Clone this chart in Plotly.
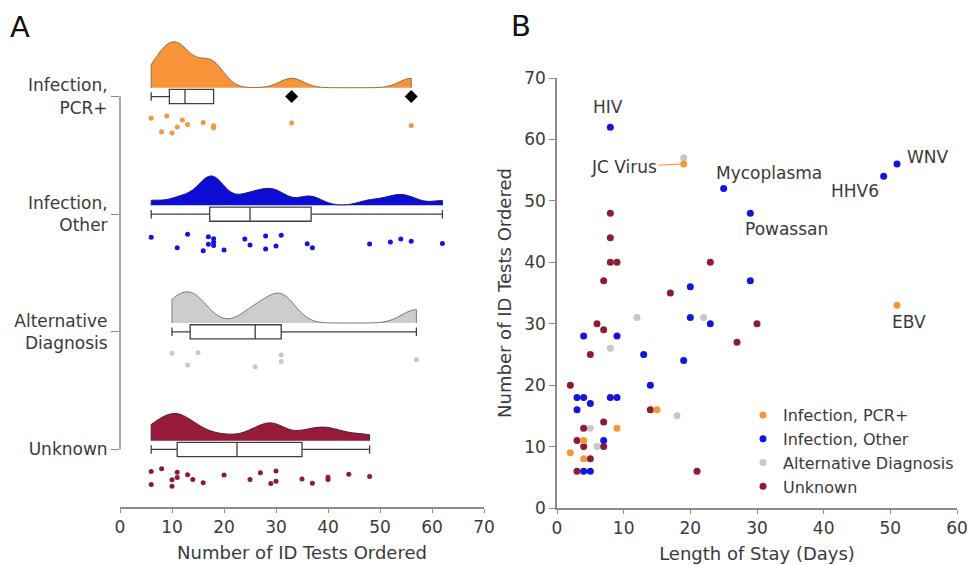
import plotly.graph_objects as go

# ---------------- data ----------------
groups = ["Infection, PCR+", "Infection, Other", "Alternative Diagnosis", "Unknown"]
group_ticks = ["Infection,<br>PCR+", "Infection,<br>Other", "Alternative<br>Diagnosis", "Unknown"]

# Panel A: number of ID tests ordered per patient, by group
tests_pcr = [6, 8, 9, 10, 11, 12, 13, 16, 18, 18, 33, 56]
tests_other = [6, 11, 13, 16, 17, 17, 18, 18, 18, 20, 24, 25, 28, 28, 30, 31, 36, 37, 48, 52, 54, 56, 62]
tests_alt = [10, 13, 15, 26, 31, 31, 57]
tests_unknown = [6, 6, 8, 10, 10, 11, 11, 13, 14, 16, 20, 25, 27, 29, 30, 30, 35, 37, 40, 40, 44, 48]

# Panel B: length of stay (days) vs number of ID tests
los_pcr = [19, 51, 15, 9, 4, 2, 4]
n_pcr = [56, 33, 16, 13, 11, 9, 8]
los_other = [8, 25, 29, 51, 49, 29, 20, 20, 23, 4, 9, 13, 19, 14, 3, 4, 8, 9, 5, 3, 7, 4, 5]
n_other = [62, 52, 48, 56, 54, 37, 36, 31, 30, 28, 28, 25, 24, 20, 18, 18, 18, 18, 17, 16, 11, 6, 6]
los_alt = [19, 12, 22, 8, 18, 5, 6]
n_alt = [57, 31, 31, 26, 15, 13, 10]
los_unknown = [8, 8, 8, 9, 23, 7, 17, 6, 30, 7, 27, 5, 2, 14, 7, 4, 3, 4, 7, 5, 3, 21]
n_unknown = [48, 44, 40, 40, 40, 37, 35, 30, 30, 29, 27, 25, 20, 16, 14, 13, 11, 10, 10, 8, 6, 6]

# labelled pathogens (x = LOS, y = tests)
label_text = ["HIV", "JC Virus", "Mycoplasma", "HHV6", "WNV", "Powassan", "EBV"]
label_los = [8, 19, 25, 49, 51, 29, 51]
label_tests = [62, 56, 52, 54, 56, 48, 33]

# ---------------- style ----------------
FONT = "DejaVu Sans"
TXT = "#3a3a3a"
AX = "#8a8a8a"
ORANGE = "#F5963A"
BLUE = "#1414DC"
GRAY = "#C8C8C8"
DRED = "#8E1B36"
V_FILL = ["#F7943A", "#0C0CD4", "#CDCDCD", "#961A3A"]
V_LINE = ["#9a6a40", "#1a1a80", "#7a7a7a", "#5a1a2a"]
colors = [ORANGE, BLUE, GRAY, DRED]
values = [tests_pcr, tests_other, tests_alt, tests_unknown]
positions = [3, 2, 1, 0]
v_height = [0.39, 0.25, 0.265, 0.23]
bws = [2.3, 2.2, 2.8, 2.5]

fig = go.Figure()

for vals, pos, col, vf, vl, vh, bw in zip(values, positions, colors, V_FILL, V_LINE, v_height, bws):
    fig.add_trace(go.Violin(
        x=vals, y0=pos + 0.075, orientation="h", side="positive",
        width=2 * vh, scalemode="width", spanmode="hard", bandwidth=bw,
        points=False, box_visible=False, meanline_visible=False,
        fillcolor=vf, line=dict(color=vl, width=1), opacity=1,
        showlegend=False, hoverinfo="skip", xaxis="x", yaxis="y"))
    fig.add_trace(go.Box(
        x=vals, y0=pos, orientation="h", width=0.12,
        fillcolor="white", line=dict(color="#404040", width=1.3),
        whiskerwidth=0.6, boxpoints="outliers",
        marker=dict(symbol="diamond", color="black", size=10),
        showlegend=False, hoverinfo="skip", xaxis="x", yaxis="y"))
    fig.add_trace(go.Box(
        x=vals, y0=pos - 0.235, orientation="h", width=0.2,
        fillcolor="rgba(0,0,0,0)", line=dict(color="rgba(0,0,0,0)", width=0),
        whiskerwidth=0, boxpoints="all", jitter=1, pointpos=0,
        marker=dict(color=col, size=5),
        showlegend=False, hoverinfo="skip", xaxis="x", yaxis="y"))

# Panel B scatter
scat = [
    ("Alternative Diagnosis", los_alt, n_alt, GRAY, 3),
    ("Unknown", los_unknown, n_unknown, DRED, 4),
    ("Infection, Other", los_other, n_other, BLUE, 2),
    ("Infection, PCR+", los_pcr, n_pcr, ORANGE, 1),
]
for name, xs, ys, col, rank in scat:
    fig.add_trace(go.Scatter(
        x=xs, y=ys, mode="markers", name=name, legendrank=rank,
        marker=dict(color=col, size=7),
        xaxis="x2", yaxis="y2"))

# annotations for pathogens: (dx, dy) pixel offsets of label centre from point
offsets = {"HIV": (-2, 20), "JC Virus": (-60, -3), "Mycoplasma": (45, 16), "HHV6": (-29, -15),
           "WNV": (31, 7), "Powassan": (36, -16), "EBV": (12, -17)}
annos = []
for t, lx, ly in zip(label_text, label_los, label_tests):
    dx, dy = offsets[t]
    if t == "JC Virus":
        annos.append(dict(x=lx, y=ly, xref="x2", yref="y2", text=t, showarrow=True,
                          arrowhead=0, arrowwidth=1.2, arrowcolor=ORANGE, ax=dx, ay=-dy,
                          standoff=4, font=dict(family=FONT, size=17, color=TXT)))
    else:
        annos.append(dict(x=lx, y=ly, xref="x2", yref="y2", text=t, showarrow=False,
                          xshift=dx, yshift=dy, xanchor="center", yanchor="middle",
                          font=dict(family=FONT, size=17, color=TXT)))
annos.append(dict(x=20 / 969, y=(565 - 27) / 565, xref="paper", yref="paper", text="A",
                  showarrow=False, xanchor="center", yanchor="middle",
                  font=dict(family=FONT, size=29, color="#111")))
annos.append(dict(x=521 / 969, y=(565 - 26) / 565, xref="paper", yref="paper", text="B",
                  showarrow=False, xanchor="center", yanchor="middle",
                  font=dict(family=FONT, size=29, color="#111")))

tickfont = dict(family=FONT, size=17, color=TXT)
titlefont = dict(family=FONT, size=18, color=TXT)

fig.update_layout(
    width=969, height=565, margin=dict(l=0, r=0, t=0, b=0),
    paper_bgcolor="white", plot_bgcolor="white",
    boxmode="overlay", violinmode="overlay",
    font=dict(family=FONT, color=TXT),
    annotations=annos,
    shapes=[dict(type="line", xref="x domain", yref="y", x0=0, x1=0, y0=0, y1=3,
                 line=dict(color=AX, width=1.5))],
    legend=dict(x=743 / 969, y=(565 - 398) / 565, xanchor="left", yanchor="top",
                bgcolor="rgba(0,0,0,0)", font=dict(family=FONT, size=16, color=TXT),
                itemsizing="trace", tracegroupgap=0),
    xaxis=dict(domain=[120 / 969, 484 / 969], anchor="y", range=[0, 70], dtick=10,
               showline=True, linecolor=AX, linewidth=1.5, ticks="outside", ticklen=4,
               tickcolor=AX, tickfont=tickfont, showgrid=False, zeroline=False,
               automargin=False,
               title=dict(text="Number of ID Tests Ordered", font=titlefont, standoff=10)),
    yaxis=dict(domain=[(565 - 507) / 565, (565 - 35) / 565], anchor="x",
               range=[-0.489, 3.523], tickvals=positions, ticktext=group_ticks,
               ticks="outside", ticklen=8, tickcolor=AX, tickfont=tickfont,
               showline=False, showgrid=False, zeroline=False, automargin=False),
    xaxis2=dict(domain=[557 / 969, 957 / 969], anchor="y2", range=[0, 60], dtick=10,
                showline=True, linecolor=AX, linewidth=1.5, ticks="outside", ticklen=4,
                tickcolor=AX, tickfont=tickfont, showgrid=False, zeroline=False,
                automargin=False,
                title=dict(text="Length of Stay (Days)", font=titlefont, standoff=10)),
    yaxis2=dict(domain=[(565 - 508) / 565, (565 - 78) / 565], anchor="x2", range=[0, 70],
                dtick=10, showline=True, linecolor=AX, linewidth=1.5, ticks="outside",
                ticklen=6, tickcolor=AX, tickfont=tickfont, showgrid=False, zeroline=False,
                automargin=False,
                title=dict(text="Number of ID Tests Ordered", font=titlefont, standoff=8)),
)

fig.write_html("out.html", config={"displayModeBar": False},
               post_script="document.body.style.margin='0';")
